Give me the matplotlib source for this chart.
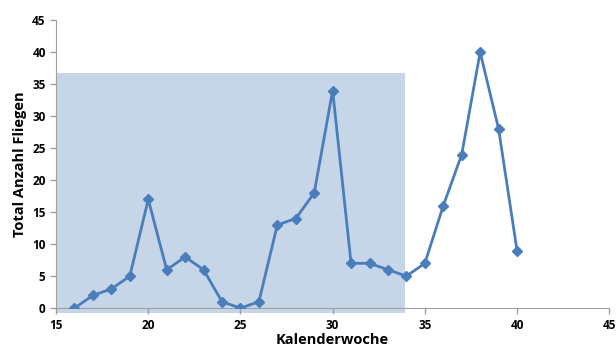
import matplotlib.pyplot as plt
from matplotlib.patches import Rectangle

weeks = [16, 17, 18, 19, 20, 21, 22, 23, 24, 25, 26, 27, 28, 29, 30,
         31, 32, 33, 34, 35, 36, 37, 38, 39, 40]
flies = [0, 2, 3, 5, 17, 6, 8, 6, 1, 0, 1, 13, 14, 18, 34,
         7, 7, 6, 5, 7, 16, 24, 40, 28, 9]
x_ticks = [15, 20, 25, 30, 35, 40, 45]
y_ticks = [0, 5, 10, 15, 20, 25, 30, 35, 40, 45]

plt.rcParams['font.family'] = ['Open Sans', 'DejaVu Sans']

fig = plt.figure(figsize=(6.16, 3.47), dpi=100)
ax = fig.add_axes([0.091, 0.112, 0.898, 0.83])

# shaded period
ax.add_patch(Rectangle((15, -0.8), 18.9, 37.5, facecolor='#c6d5e8',
                       edgecolor='none', zorder=0, clip_on=False))

ax.plot(weeks, flies, color='#4a7ebb', lw=2, marker='D', ms=5, zorder=3)

ax.set_xlim(15, 45)
ax.set_ylim(0, 45)
ax.set_xticks(x_ticks)
ax.set_yticks(y_ticks)
ax.tick_params(labelsize=8.5, color='#a0a0a0', length=4, width=1)
for lbl in ax.get_xticklabels() + ax.get_yticklabels():
    lbl.set_fontweight('bold')
ax.set_xlabel('Kalenderwoche', fontsize=10.5, fontweight='bold', labelpad=1)
ax.set_ylabel('Total Anzahl Fliegen', fontsize=10.5, fontweight='bold')

for s in ['top', 'right']:
    ax.spines[s].set_visible(False)
for s in ['left', 'bottom']:
    ax.spines[s].set_color('#a0a0a0')

fig.savefig('out.png', dpi=100)
